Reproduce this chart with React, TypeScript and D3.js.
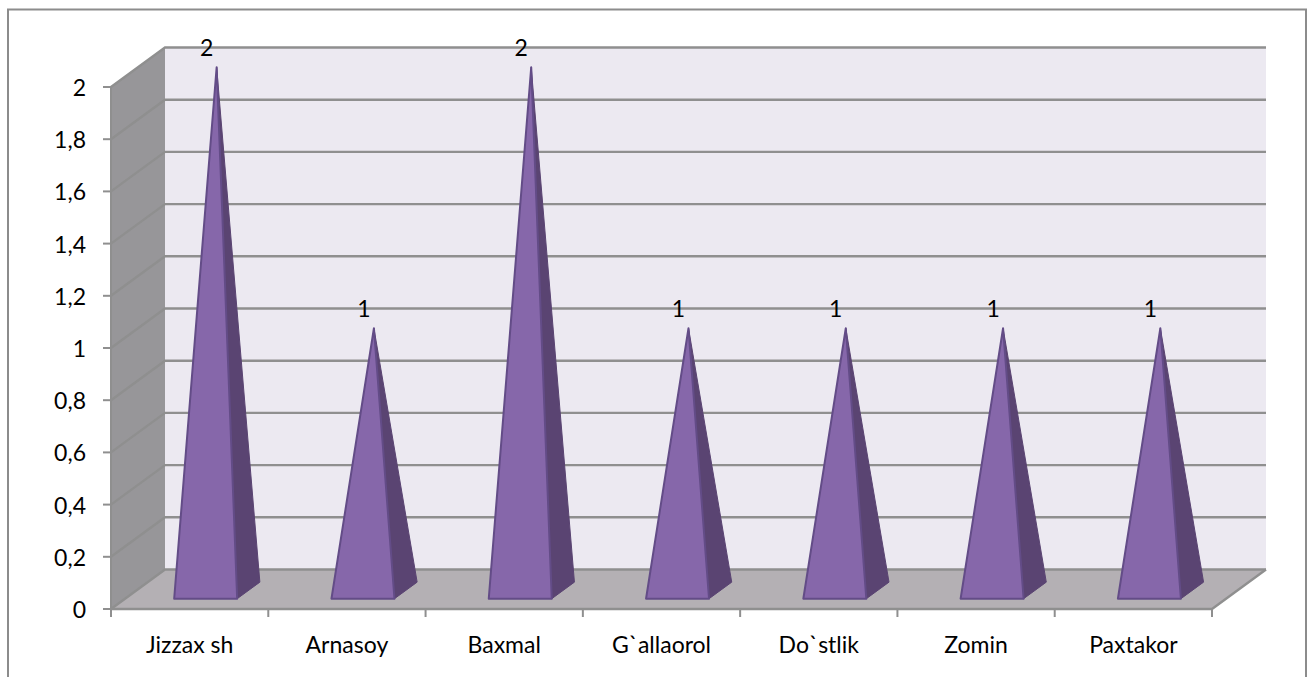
import * as d3 from "d3";

const categories = ["Jizzax sh", "Arnasoy", "Baxmal", "G`allaorol", "Do`stlik", "Zomin", "Paxtakor"];
const values = [2, 1, 2, 1, 1, 1, 1];
const yTicks = [0, 0.2, 0.4, 0.6, 0.8, 1, 1.2, 1.4, 1.6, 1.8, 2];

const width = 1314;
const height = 677;
const depthX = 54;
const depthY = -39.5;
const font = "Lato, 'Open Sans', sans-serif";

const x = d3.scaleBand<string>().domain(categories).range([111, 1212]);
const y = d3.scaleLinear().domain([0, 2]).range([609, 87]);
const fmt = (v: number) => String(v).replace(".", ",");

// project a point in the front plane back into the depth of the box (0 = front, 1 = back)
const at = (px: number, py: number, d: number): [number, number] => [px + depthX * d, py + depthY * d];
const poly = (pts: [number, number][]) => pts.map((p) => p.join(",")).join(" ");

export default function App() {
  const [x0, x1] = x.range();
  const y0 = y(0);
  const yTop = y(2);
  const halfBase = 31.5;
  const baseShift = 2;

  return (
    <svg
      width={width}
      height={height}
      viewBox={`0 0 ${width} ${height}`}
      style={{ position: "absolute", left: 0, top: 0, display: "block" }}
      fontFamily={font}
    >
      <rect width={width} height={height} fill="#fff" />
      <path d={`M8,${height} V9.5 H1306 V${height}`} fill="none" stroke="#8c8c8c" strokeWidth={2} />

      {/* walls and floor */}
      <polygon points={poly([at(x0, yTop, 1), at(x1, yTop, 1), at(x1, y0, 1), at(x0, y0, 1)])} fill="#ece9f1" />
      <polygon points={poly([at(x0, yTop, 0), at(x0, yTop, 1), at(x0, y0, 1), at(x0, y0, 0)])} fill="#979699" />
      <polygon points={poly([at(x0, y0, 0), at(x0, y0, 1), at(x1, y0, 1), at(x1, y0, 0)])} fill="#b4b0b4" />

      {/* gridlines run along the side wall and the back wall */}
      {yTicks.map((t) => (
        <polyline
          key={t}
          points={poly([at(x0, y(t), 0), at(x0, y(t), 1), at(x1, y(t), 1)])}
          fill="none"
          stroke="#8f8f8f"
          strokeWidth={2.4}
        />
      ))}
      <polyline points={poly([at(x0, y0, 0), at(x1, y0, 0), at(x1, y0, 1)])} fill="none" stroke="#8f8f8f" strokeWidth={2.4} />
      <line x1={x0} x2={x0} y1={yTop} y2={y0} stroke="#8f8f8f" strokeWidth={2} />

      {/* axis ticks */}
      {yTicks.map((t) => (
        <g key={t}>
          <line x1={x0 - 8} x2={x0} y1={y(t)} y2={y(t)} stroke="#8f8f8f" strokeWidth={2} />
          <text x={x0 - 25} y={y(t) + 9} textAnchor="end" fontSize={23} fill="#000">
            {fmt(t)}
          </text>
        </g>
      ))}
      {[...categories.map((c) => x(c)!), x1].map((tx) => (
        <line key={tx} x1={tx} x2={tx} y1={y0} y2={y0 + 8} stroke="#8f8f8f" strokeWidth={2} />
      ))}
      {categories.map((c) => (
        <text key={c} x={x(c)! + x.bandwidth() / 2} y={y0 + 44} textAnchor="middle" fontSize={23} fill="#000">
          {c}
        </text>
      ))}

      {/* pyramids */}
      {categories.map((c, i) => {
        const cx = x(c)! + x.bandwidth() / 2;
        const apex = at(cx, y(values[i]), 0.5);
        const fl = at(cx + baseShift - halfBase, y0, 0.26);
        const fr = at(cx + baseShift + halfBase, y0, 0.26);
        const br = at(cx + baseShift + halfBase, y0, 0.68);
        return (
          <g key={c}>
            <polygon points={poly([fr, br, apex])} fill="#5a4472" stroke="#5a4472" strokeWidth={1} strokeLinejoin="round" />
            <polygon points={poly([fl, fr, apex])} fill="#8667aa" stroke="#634c87" strokeWidth={2} strokeLinejoin="round" />
            <text x={apex[0] - 10} y={apex[1] - 11} textAnchor="middle" fontSize={23} fill="#000">
              {values[i]}
            </text>
          </g>
        );
      })}
    </svg>
  );
}
